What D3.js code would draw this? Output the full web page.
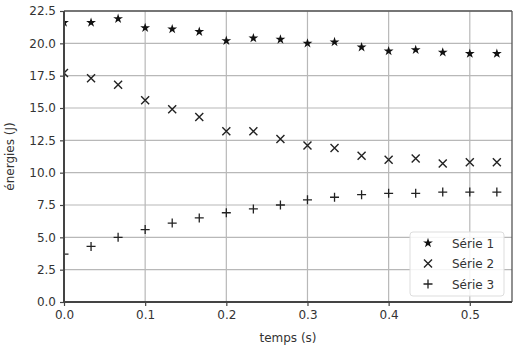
<!DOCTYPE html>
<html lang="fr">
<head>
<meta charset="UTF-8">
<title>énergies</title>
<script src="https://d3js.org/d3.v7.min.js"></script>
<style>
    body{ margin:0; background:#fff; font-family:"DejaVu Sans", sans-serif; }
    .tick text{ font-size:12px; fill:#333; font-family:"DejaVu Sans", sans-serif; }
    .label{ font-size:12px; fill:#333; }
</style>
</head>
<body>
<svg width="524" height="352"></svg>
<script>
    // data
    const temps = d3.range(17).map(i => i / 30);
    const serie1 = [21.6, 21.6, 21.9, 21.2, 21.1, 20.9, 20.2, 20.4, 20.3, 20.0, 20.1, 19.7, 19.4, 19.5, 19.3, 19.2, 19.2];
    const serie2 = [17.7, 17.3, 16.8, 15.6, 14.9, 14.3, 13.2, 13.2, 12.6, 12.1, 11.9, 11.3, 11.0, 11.1, 10.7, 10.8, 10.8];
    const serie3 = [3.7, 4.3, 5.0, 5.6, 6.1, 6.5, 6.9, 7.2, 7.5, 7.9, 8.1, 8.3, 8.4, 8.4, 8.5, 8.5, 8.5];
    const seriesNames = ["Série 1", "Série 2", "Série 3"];
    const xTicks = [0, 0.1, 0.2, 0.3, 0.4, 0.5];
    const yTicks = [0, 2.5, 5, 7.5, 10, 12.5, 15, 17.5, 20, 22.5];

    const svg = d3.select("svg");
    const mLeft = 64, mRight = 512, mTop = 11, mBottom = 302;

    const x = d3.scaleLinear().domain([0, 0.552]).range([mLeft, mRight]);
    const y = d3.scaleLinear().domain([0, 22.5]).range([mBottom, mTop]);

    svg.append("clipPath").attr("id", "area").append("rect")
        .attr("x", mLeft).attr("y", mTop).attr("width", mRight - mLeft).attr("height", mBottom - mTop);

    // grid
    svg.append("g").selectAll("line").data(xTicks.slice(1)).join("line")
        .attr("x1", d => x(d)).attr("x2", d => x(d))
        .attr("y1", mTop).attr("y2", mBottom)
        .attr("stroke", "#b8b8b8").attr("stroke-width", 1.2);
    svg.append("g").selectAll("line").data(yTicks.slice(1)).join("line")
        .attr("x1", mLeft).attr("x2", mRight)
        .attr("y1", d => y(d)).attr("y2", d => y(d))
        .attr("stroke", "#b8b8b8").attr("stroke-width", 1.2);

    // axes
    const xAxis = d3.axisBottom(x).tickValues(xTicks).tickFormat(d3.format(".1f")).tickSize(4).tickPadding(4);
    const yAxis = d3.axisLeft(y).tickValues(yTicks).tickFormat(d3.format(".1f")).tickSize(4).tickPadding(4);
    const gx = svg.append("g").attr("transform", `translate(0,${mBottom})`).call(xAxis);
    const gy = svg.append("g").attr("transform", `translate(${mLeft},0)`).call(yAxis);
    [gx, gy].forEach(g => {
        g.select(".domain").remove();
        g.selectAll(".tick line").attr("stroke", "#444").attr("stroke-width", 1.2);
    });

    // markers
    function marker(sel, i) {
        if (i === 0) {
            sel.append("path").attr("d", d3.symbol(d3.symbolStar, 30)()).attr("fill", "#111");
        } else if (i === 1) {
            sel.append("path").attr("d", "M-4,-4L4,4M-4,4L4,-4").attr("stroke", "#222").attr("stroke-width", 1.4).attr("fill", "none");
        } else {
            sel.append("path").attr("d", "M-4.5,0L4.5,0M0,-4.5L0,4.5").attr("stroke", "#222").attr("stroke-width", 1.3).attr("fill", "none");
        }
    }

    const plot = svg.append("g").attr("clip-path", "url(#area)");
    [serie1, serie2, serie3].forEach((vals, i) => {
        plot.append("g").selectAll("g").data(vals).join("g")
            .attr("transform", (d, j) => `translate(${x(temps[j])},${y(d)})`)
            .each(function () { marker(d3.select(this), i); });
    });

    // frame
    svg.append("line").attr("x1", mLeft).attr("x2", mRight).attr("y1", mTop).attr("y2", mTop)
        .attr("stroke", "#555").attr("stroke-width", 1.3);
    svg.append("line").attr("x1", mRight).attr("x2", mRight).attr("y1", mTop).attr("y2", mBottom)
        .attr("stroke", "#555").attr("stroke-width", 1.3);
    svg.append("line").attr("x1", mLeft).attr("x2", mRight).attr("y1", mBottom).attr("y2", mBottom)
        .attr("stroke", "#444").attr("stroke-width", 2);
    svg.append("line").attr("x1", mLeft).attr("x2", mLeft).attr("y1", mTop).attr("y2", mBottom)
        .attr("stroke", "#444").attr("stroke-width", 2);

    // labels
    svg.append("text").attr("class", "label").attr("x", (mLeft + mRight) / 2).attr("y", 342)
        .attr("text-anchor", "middle").text("temps (s)");
    svg.append("text").attr("class", "label")
        .attr("transform", `translate(14,${(mTop + mBottom) / 2}) rotate(-90)`)
        .attr("text-anchor", "middle").text("énergies (J)");

    // legend
    const lg = svg.append("g").attr("transform", "translate(410,232)");
    lg.append("rect").attr("width", 94).attr("height", 64).attr("rx", 3)
        .attr("fill", "#fff").attr("fill-opacity", 0.85).attr("stroke", "#ddd");
    seriesNames.forEach((name, i) => {
        const row = lg.append("g").attr("transform", `translate(18,${11 + i * 20.5})`);
        marker(row, i);
        row.append("text").attr("x", 24).attr("y", 4.5).attr("class", "label").text(name);
    });
</script>
</body>
</html>
